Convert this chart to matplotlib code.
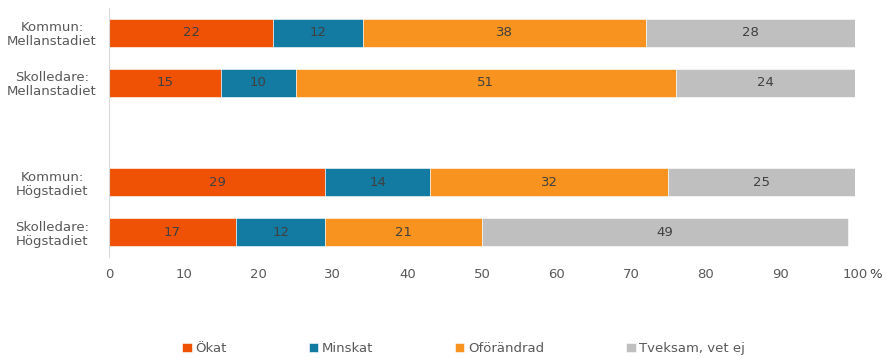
import numpy as np
import matplotlib.pyplot as plt

# stacked shares per respondent group (percent)
groups = ['Kommun:\nMellanstadiet', 'Skolledare:\nMellanstadiet',
          'Kommun:\nHögstadiet', 'Skolledare:\nHögstadiet']
okat = [22, 15, 29, 17]
minskat = [12, 10, 14, 12]
oforandrad = [38, 51, 32, 21]
tveksam = [28, 24, 25, 49]

series = [('Ökat', okat, '#F05205'),
          ('Minskat', minskat, '#137AA1'),
          ('Oförändrad', oforandrad, '#F7931E'),
          ('Tveksam, vet ej', tveksam, '#BFBFBF')]

ypos = np.array([0, 1, 3, 4])

fig = plt.figure(figsize=(8.87, 3.58), dpi=100)
ax = fig.add_axes([0.1229, 0.282, 0.841, 0.696])

left = np.zeros(len(groups))
for name, vals, col in series:
    vals = np.array(vals)
    ax.barh(ypos, vals, left=left, height=0.56, color=col, label=name,
            edgecolor='white', linewidth=0.4)
    for y, l, v in zip(ypos, left, vals):
        ax.text(l + v / 2, y, str(v), ha='center', va='center',
                fontsize=9.5, color='#404040')
    left += vals

ax.set_xlim(0, 100)
ax.set_ylim(4.5, -0.5)
ax.set_yticks(ypos)
ax.set_yticklabels(groups, fontsize=9.5, color='#595959', linespacing=1.1,
                   ha='center')
ax.set_xticks(range(0, 101, 10))
ax.set_xticklabels([str(t) for t in range(0, 101, 10)], fontsize=9.5, color='#595959')
ax.tick_params(length=0)
ax.tick_params(axis='x', pad=8)
ax.tick_params(axis='y', pad=41)
ax.annotate('%', xy=(1, 0), xycoords='axes fraction', xytext=(10, -8),
            textcoords='offset points', fontsize=9.5, color='#404040',
            ha='left', va='top')

for s in ['top', 'right', 'bottom']:
    ax.spines[s].set_visible(False)
ax.spines['left'].set_color('#D9D9D9')

fig.legend(loc='center', bbox_to_anchor=(0.523, 0.027), ncol=4, frameon=False,
           fontsize=9.5, handlelength=0.7, handleheight=0.7, handletextpad=0.3,
           columnspacing=6.2, labelcolor='#595959')

fig.savefig('out.png', dpi=100)
